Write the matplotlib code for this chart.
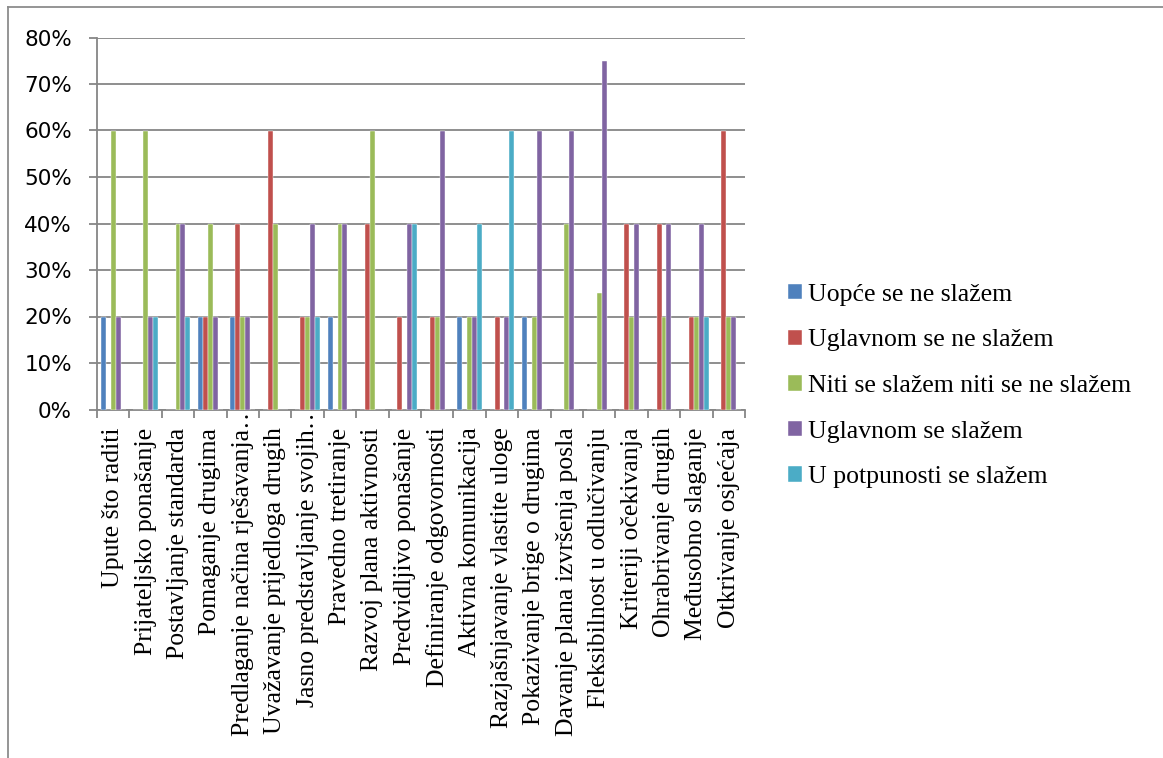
import matplotlib
matplotlib.use("Agg")
import matplotlib.pyplot as plt
from matplotlib.lines import Line2D
from matplotlib.ticker import FuncFormatter
from matplotlib.transforms import ScaledTranslation
import numpy as np

categories = [
    "Upute što raditi", "Prijateljsko ponašanje", "Postavljanje standarda",
    "Pomaganje drugima", "Predlaganje načina rješavanja…",
    "Uvažavanje prijedloga drugih", "Jasno predstavljanje svojih…",
    "Pravedno tretiranje", "Razvoj plana aktivnosti", "Predvidljivo ponašanje",
    "Definiranje odgovornosti", "Aktivna komunikacija",
    "Razjašnjavanje vlastite uloge", "Pokazivanje brige o drugima",
    "Davanje plana izvršenja posla", "Fleksibilnost u odlučivanju",
    "Kriteriji očekivanja", "Ohrabrivanje drugih", "Međusobno slaganje",
    "Otkrivanje osjećaja",
]

series_names = [
    "Uopće se ne slažem", "Uglavnom se ne slažem",
    "Niti se slažem niti se ne slažem", "Uglavnom se slažem",
    "U potpunosti se slažem",
]

uopce_ne = [0.20, 0, 0, 0.20, 0.20, 0, 0, 0.20, 0, 0, 0, 0.20, 0, 0.20, 0, 0, 0, 0, 0, 0]
uglavnom_ne = [0, 0, 0, 0.20, 0.40, 0.60, 0.20, 0, 0.40, 0.20, 0.20, 0, 0.20, 0, 0, 0, 0.40, 0.40, 0.20, 0.60]
niti_niti = [0.60, 0.60, 0.40, 0.40, 0.20, 0.40, 0.20, 0.40, 0.60, 0, 0.20, 0.20, 0, 0.20, 0.40, 0.25, 0.20, 0.20, 0.20, 0.20]
uglavnom_da = [0.20, 0.20, 0.40, 0.20, 0.20, 0, 0.40, 0.40, 0, 0.40, 0.60, 0.20, 0.20, 0.60, 0.60, 0.75, 0.40, 0.40, 0.40, 0.20]
potpuno_da = [0, 0.20, 0.20, 0, 0, 0, 0.20, 0, 0, 0.40, 0, 0.40, 0.60, 0, 0, 0, 0, 0, 0.20, 0]

series_values = [uopce_ne, uglavnom_ne, niti_niti, uglavnom_da, potpuno_da]
colors = ["#4F81BD", "#C0504D", "#9BBB59", "#8064A2", "#4BACC6"]

W, H = 1163, 758
fig = plt.figure(figsize=(W / 100, H / 100), dpi=100)
ax = fig.add_axes([97 / W, 1 - 409.5 / H, (745 - 97) / W, (409.5 - 37.5) / H])

grid_col = "#868686"
n = len(categories)
x = np.arange(n)
bw = 1 / 6.5
for i, (name, vals, c) in enumerate(zip(series_names, series_values, colors)):
    ax.bar(x + (i - 2) * bw, vals, width=bw, color=c, label=name,
           edgecolor="white", linewidth=0.3, zorder=3)

ax.set_xlim(-0.5, n - 0.5)
ax.set_ylim(0, 0.8)
ax.set_yticks(np.arange(0, 0.81, 0.1))
ax.yaxis.set_major_formatter(FuncFormatter(lambda v, p: f"{v * 100:.0f}%"))
ax.yaxis.grid(True, color=grid_col, linewidth=1.3, zorder=0)
ax.set_axisbelow(True)

ax.set_xticks(x)
ax.set_xticklabels(categories, rotation=90, family="Liberation Serif",
                   fontsize=18.5, va="top", ha="center")
ax.set_xticks(np.arange(-0.5, n, 1), minor=True)
ax.tick_params(axis="x", which="major", length=0, pad=13)
ax.tick_params(axis="x", which="minor", length=6, width=1.3, color=grid_col)
ax.tick_params(axis="y", length=6, width=1.3, color=grid_col, pad=12,
               labelsize=15.5)
for lab in ax.get_yticklabels():
    lab.set_family("DejaVu Sans")

# truncated labels: the ellipsis sits up against the axis, as in the original
for lab in ax.get_xticklabels():
    if lab.get_text().endswith("…"):
        lab.set_transform(lab.get_transform() +
                          ScaledTranslation(0, 24 / 100, fig.dpi_scale_trans))

for s in ["top", "right"]:
    ax.spines[s].set_visible(False)
for s in ["left", "bottom"]:
    ax.spines[s].set_color(grid_col)
    ax.spines[s].set_linewidth(1.3)

leg = fig.legend(loc="center left", bbox_to_anchor=(775 / W, 1 - 386 / H),
                 frameon=False, prop={"family": "Liberation Serif", "size": 18.5},
                 handlelength=0.55, handleheight=0.55, handletextpad=0.25,
                 labelspacing=0.92, borderpad=0)

# chart outer border (top and left visible)
fig.add_artist(Line2D([8 / W, 8 / W], [0, 1 - 7 / H], transform=fig.transFigure,
                      color="#8C8C8C", linewidth=1.3))
fig.add_artist(Line2D([8 / W, 1], [1 - 7 / H, 1 - 7 / H], transform=fig.transFigure,
                      color="#8C8C8C", linewidth=1.3))

fig.savefig("out.png", dpi=100)
